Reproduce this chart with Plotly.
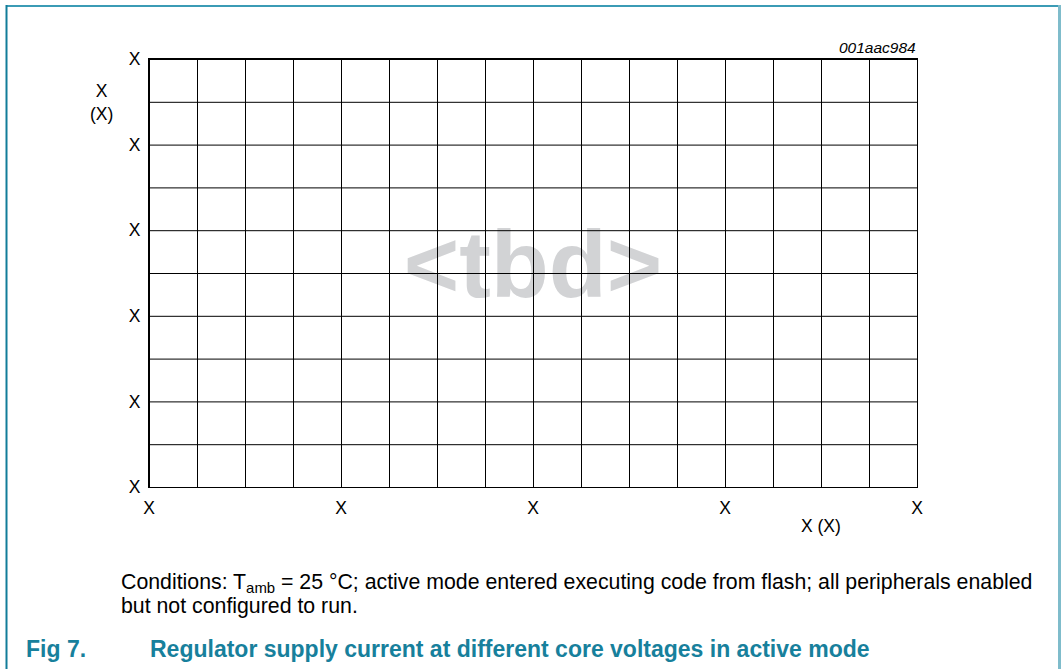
import plotly.graph_objects as go

# ---- data (placeholder chart: all tick labels are "X") ----
x_grid_vals = list(range(0, 17))
x_tick_labels = ["X" if v % 4 == 0 else "" for v in x_grid_vals]
y_grid_vals = list(range(0, 11))
y_tick_labels = ["X" if v % 2 == 0 else "" for v in y_grid_vals]
x_title = "X (X)"
y_title = "X<br>(X)"
figure_code = "001aac984"
watermark = "&lt;tbd&gt;"
caption_lines = [
    "Conditions: T<sub>amb</sub> = 25 °C; active mode entered executing code from flash; all peripherals enabled",
    "but not configured to run.",
]
fig_label = "Fig 7."
fig_title = "Regulator supply current at different core voltages in active mode"

W, H = 1061, 669
L, R, T, B = 149, 917, 59, 487
FONT = "Liberation Sans, Arial, sans-serif"
TEAL = "#17809c"

x_min, x_max = x_grid_vals[0], x_grid_vals[-1]
y_min, y_max = y_grid_vals[0], y_grid_vals[-1]
ux = (R - L) / (x_max - x_min)   # px per x unit
uy = (B - T) / (y_max - y_min)   # px per y unit


def px(x):
    return (x - L) / (R - L)


def py(y):
    return (B - y) / (B - T)


fig = go.Figure()
# placeholder watermark (drawn under the grid, which is added as shapes above traces)
fig.add_trace(go.Scatter(x=[(x_min + x_max) / 2], y=[(y_min + y_max) / 2],
                         mode="text", text=["<b>" + watermark + "</b>"], textposition="middle center",
                         textfont=dict(family=FONT, size=95, color="#d2d3d5", weight=700),
                         hoverinfo="skip", showlegend=False, cliponaxis=False))

axis_common = dict(showgrid=False, zeroline=False, showline=True, linecolor="#000000", linewidth=1,
                   mirror=True, ticks="", tickfont=dict(family=FONT, size=17.5, color="#000"),
                   fixedrange=True)
fig.update_xaxes(range=[x_min, x_max], tickmode="array", tickvals=x_grid_vals,
                 ticktext=x_tick_labels, ticklabelstandoff=5, **axis_common)
fig.update_yaxes(range=[y_min, y_max], tickmode="array", tickvals=y_grid_vals,
                 ticktext=y_tick_labels, ticklabelstandoff=4, **axis_common)

shapes = []
# grid lines on top of the watermark (half-pixel offset for crisp 1px lines)
for v in x_grid_vals:
    xv = v + 0.5 / ux
    shapes.append(dict(type="line", xref="x", yref="y", x0=xv, x1=xv, y0=y_min, y1=y_max,
                       line=dict(color="#000000", width=1), layer="above"))
for v in y_grid_vals:
    yv = v - 0.5 / uy
    shapes.append(dict(type="line", xref="x", yref="y", x0=x_min, x1=x_max, y0=yv, y1=yv,
                       line=dict(color="#000000", width=1), layer="above"))
# frame
shapes += [
    dict(type="line", xref="paper", yref="paper", x0=px(6), x1=px(1059), y0=py(6), y1=py(6),
         line=dict(color="#3b9bb5", width=2), layer="above"),
    dict(type="line", xref="paper", yref="paper", x0=px(6.5), x1=px(6.5), y0=py(5), y1=py(680),
         line=dict(color="#127d99", width=2), layer="above"),
    dict(type="line", xref="paper", yref="paper", x0=px(1059.5), x1=px(1059.5), y0=py(5), y1=py(680),
         line=dict(color="#7fbccb", width=3), layer="above"),
]

annotations = [
    dict(text=y_title, xref="paper", yref="paper", x=px(101), y=py(102), showarrow=False,
         font=dict(family=FONT, size=17.5, color="#000"), align="center",
         xanchor="center", yanchor="middle"),
    dict(text=x_title, xref="paper", yref="paper", x=px(821), y=py(526), showarrow=False,
         font=dict(family=FONT, size=17.5, color="#000"), xanchor="center", yanchor="middle"),
    dict(text="<i>" + figure_code + "</i>", xref="paper", yref="paper", x=px(918), y=py(47),
         showarrow=False, font=dict(family=FONT, size=15.5, color="#000"),
         xanchor="right", yanchor="middle"),
    dict(text=caption_lines[0], xref="paper", yref="paper", x=px(119), y=py(583),
         showarrow=False, font=dict(family=FONT, size=21.3, color="#000"),
         xanchor="left", yanchor="middle"),
    dict(text=caption_lines[1], xref="paper", yref="paper", x=px(119), y=py(606),
         showarrow=False, font=dict(family=FONT, size=21.3, color="#000"),
         xanchor="left", yanchor="middle"),
    dict(text="<b>" + fig_label + "</b>", xref="paper", yref="paper", x=px(24), y=py(649),
         showarrow=False, font=dict(family=FONT, size=23, color=TEAL),
         xanchor="left", yanchor="middle"),
    dict(text="<b>" + fig_title + "</b>", xref="paper", yref="paper", x=px(148), y=py(649),
         showarrow=False, font=dict(family=FONT, size=23, color=TEAL),
         xanchor="left", yanchor="middle"),
]

fig.update_layout(
    width=W, height=H,
    margin=dict(l=L, r=W - R, t=T, b=H - B, pad=0),
    paper_bgcolor="#ffffff", plot_bgcolor="#ffffff",
    showlegend=False, shapes=shapes, annotations=annotations,
    font=dict(family=FONT),
)

fig.write_html("out.html", config={"displayModeBar": False},
               post_script="document.body.style.margin='0px';document.body.style.overflow='hidden';")
